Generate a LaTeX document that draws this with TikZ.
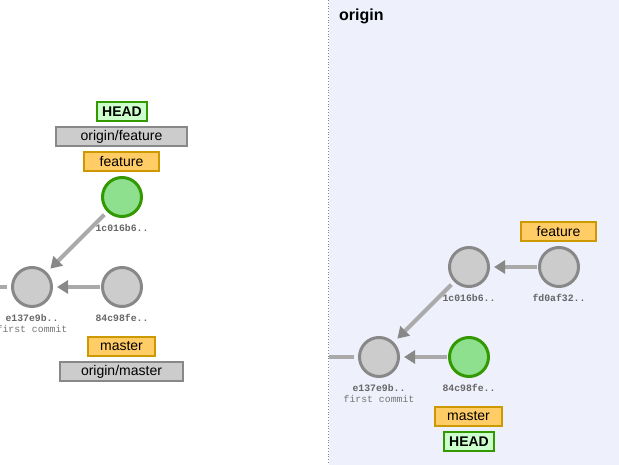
\documentclass[tikz,border=0pt]{standalone}
\usepackage{fontspec}
\setmainfont{Liberation Sans}
\newfontfamily\monof{Liberation Mono}
\usetikzlibrary{arrows.meta}
\definecolor{bgright}{HTML}{EEF0FC}
\definecolor{cgfill}{HTML}{CCCCCC}
\definecolor{cgdraw}{HTML}{888888}
\definecolor{cgreenfill}{HTML}{8EE08E}
\definecolor{cgreendraw}{HTML}{339900}
\definecolor{headfill}{HTML}{CCFFCC}
\definecolor{featfill}{HTML}{FFCC66}
\definecolor{featdraw}{HTML}{CC9900}
\definecolor{shaft}{HTML}{AAAAAA}
\definecolor{tipc}{HTML}{888888}
\definecolor{idtext}{HTML}{666666}
\tikzset{
  commit/.style={circle, draw=cgdraw, fill=cgfill, line width=3pt, minimum size=39pt, inner sep=0pt},
  gcommit/.style={commit, draw=cgreendraw, fill=cgreenfill},
  cid/.style={font=\monof\fontsize{9.8}{11}\selectfont\bfseries, text=idtext, inner sep=0pt},
  cmsg/.style={font=\monof\fontsize{9.8}{11}\selectfont, text=idtext!90, inner sep=0pt},
  refbox/.style={rectangle, line width=2pt, minimum height=19pt, inner sep=0pt, font=\fontsize{14}{16}\selectfont, text=black},
  headbox/.style={refbox, draw=cgreendraw, fill=headfill, font=\fontsize{14}{16}\selectfont\bfseries},
  remotebox/.style={refbox, draw=cgdraw, fill=cgfill},
  branchbox/.style={refbox, draw=featdraw, fill=featfill},
  parent/.style={draw=shaft, line width=4pt, -{Triangle[length=11pt,width=13pt,color=tipc]}, shorten <=1pt, shorten >=4pt},
  stub/.style={draw=shaft, line width=4pt, shorten >=4pt},
}
\begin{document}
\begin{tikzpicture}[x=1pt,y=-1pt]
\useasboundingbox (0,0) rectangle (619,465);
\clip (0,0) rectangle (619,465);
% right panel background
\fill[bgright] (329,0) rectangle (619,465);
\draw[cgdraw, dotted, line width=0.8pt] (328.5,0) -- (328.5,465);
\node[anchor=west, font=\fontsize{16}{19}\selectfont\bfseries, inner sep=0pt] (origintitle) at (339,16) {origin};

% ---------- left (local) ----------
\node[gcommit] (L1c) at (122,197) {};
\node[commit] (Le1) at (32,287) {};
\node[commit] (L84) at (122,287) {};
\node[cid] (L1ct) at (122,228) {1c016b6..};
\node[cid] (Le1t) at (32,318) {e137e9b..};
\node[cmsg] (Le1m) at (32,328.5) {first commit};
\node[cid] (L84t) at (122,318) {84c98fe..};
\coordinate (Lstub) at (-16,287);
\draw[stub] (Lstub) -- (Le1);
\draw[parent] (L84) -- (Le1);
\draw[parent, shorten <=4pt, shorten >=5pt] (L1c) -- (Le1);

\node[headbox, minimum width=50pt] (LHEAD) at (122,112) {HEAD};
\node[remotebox, minimum width=131pt] (Lorigfeat) at (121.5,136.5) {origin/feature};
\node[branchbox, minimum width=75pt] (Lfeat) at (121.5,161.5) {feature};
\node[branchbox, minimum width=67pt] (Lmaster) at (121.5,346.5) {master};
\node[remotebox, minimum width=123pt] (Lorigmaster) at (121.5,371.5) {origin/master};

% ---------- right (origin) ----------
\node[commit] (R1c) at (469,267) {};
\node[commit] (Rfd) at (559,267) {};
\node[commit] (Re1) at (379,357) {};
\node[gcommit] (R84) at (469,357) {};
\node[cid] (R1ct) at (469,298) {1c016b6..};
\node[cid] (Rfdt) at (559,298) {fd0af32..};
\node[cid] (Re1t) at (379,388) {e137e9b..};
\node[cmsg] (Re1m) at (379,398.5) {first commit};
\node[cid] (R84t) at (469,388) {84c98fe..};
\coordinate (Rstub) at (329,357);
\draw[stub] (Rstub) -- (Re1);
\draw[parent] (Rfd) -- (R1c);
\draw[parent] (R84) -- (Re1);
\draw[parent, shorten <=4pt, shorten >=5pt] (R1c) -- (Re1);

\node[branchbox, minimum width=75pt] (Rfeat) at (558.5,231.5) {feature};
\node[branchbox, minimum width=67pt] (Rmaster) at (468.5,416.5) {master};
\node[headbox, minimum width=50pt] (RHEAD) at (469,441.5) {HEAD};
\end{tikzpicture}
\end{document}
